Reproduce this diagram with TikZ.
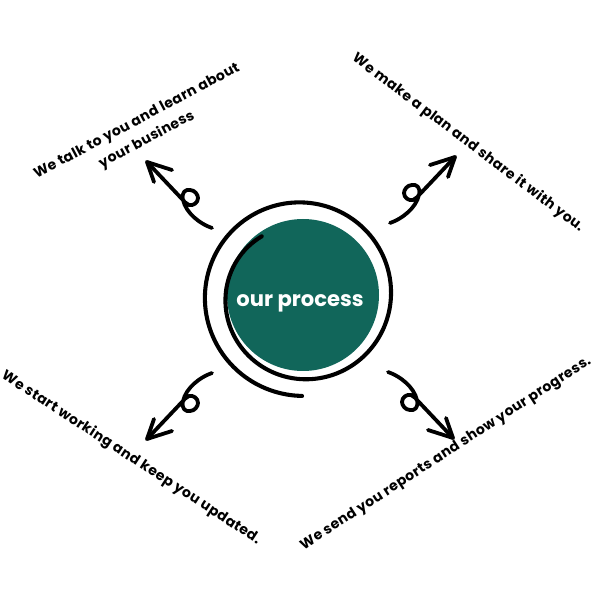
\documentclass[tikz,border=0pt]{standalone}
\usepackage{fontspec}
\setmainfont{Poppins}
\newfontfamily\stepfont{Poppins}[LetterSpace=3]
\usepackage{tikz}
\usetikzlibrary{calc}
\definecolor{hubteal}{RGB}{17,102,90}

\begin{document}
\begin{tikzpicture}
    \newcommand{\curlarrow}[3]{
      \begin{scope}[x=0.025cm, y=0.025cm, shift={(#1)}, xscale=#2, yscale=#3]
        \draw[curl] (-22,-30) .. controls (-10,-26) and (4,-15) .. (7,-2)
          .. controls (9,6) and (4,9) .. (0,8)
          .. controls (-5,8) and (-8,3) .. (-8,0)
          .. controls (-8,-5) and (-3,-8) .. (1,-7)
          .. controls (4,-6) and (6,-3) .. (8,-1) -- (43,36);
        \draw[curl] (18,28) -- (43,36) -- (36,16);
      \end{scope}
    }
    \tikzstyle{ring}  = [line width=2.9pt,draw=black,line cap=round]
    \tikzstyle{curl}  = [line width=2.7pt,draw=black,line cap=round,line join=round]
    \tikzstyle{hub}=[
      circle,
      fill=hubteal,
      minimum size=3.8cm,
      inner sep=0pt,
    ]
    \tikzstyle{hublabel}=[
      text=white,
      font=\bfseries\fontsize{15}{18}\selectfont,
    ]
    \tikzstyle{stepnote}=[
      font=\stepfont\bfseries\fontsize{10}{15}\selectfont,
      align=center,
      inner sep=0pt,
    ]

    \useasboundingbox (0,0) rectangle (15,15);
    \coordinate (hubAnchor) at (7.55,7.6);

    % centre circle
    {
      \node[hub] (processHub) at ([xshift=0.025cm, yshift=0.025cm] hubAnchor) {};
      \node[hublabel] (hubText) at ([xshift=-0.05cm, yshift=-0.175cm] hubAnchor) {our process};
      \begin{scope}[shift={(hubAnchor)}]
        \draw[ring] plot[domain=0:1, samples=150, smooth]
          ({0.025*(72+28*\x+4*sin(180*\x))*cos(124+507*\x)},
           {0.025*(72+28*\x+4*sin(180*\x))*sin(124+507*\x)});
      \end{scope}
    }

    % curly arrows
    {
      \coordinate (curlPlan) at ([xshift=2.75cm, yshift=2.575cm] hubAnchor);
      \coordinate (curlTalk) at ([xshift=-2.8cm, yshift=2.45cm] hubAnchor);
      \coordinate (curlReport) at ([xshift=2.7cm, yshift=-2.65cm] hubAnchor);
      \coordinate (curlWork) at ([xshift=-2.8cm, yshift=-2.675cm] hubAnchor);

      \curlarrow{curlPlan}{1}{1}
      \curlarrow{curlTalk}{-1}{1}
      \curlarrow{curlReport}{1}{-1}
      \curlarrow{curlWork}{-1}{-1}
    }

    % steps
    {
      \node[stepnote, rotate=28] (stepTalk) at ([xshift=-4.0cm, yshift=4.125cm] hubAnchor)
        {We talk to you and learn about\\your business};
      \node[stepnote, rotate=-37] (stepPlan) at ([xshift=4.15cm, yshift=3.825cm] hubAnchor)
        {We make a plan and share it with you.};
      \node[stepnote, rotate=-33] (stepWork) at ([xshift=-4.275cm, yshift=-4.05cm] hubAnchor)
        {We start working and keep you updated.};
      \node[stepnote, rotate=33] (stepReport) at ([xshift=3.6cm, yshift=-3.95cm] hubAnchor)
        {We send you reports and show your progress.};
    }
  \end{tikzpicture}
\end{document}
